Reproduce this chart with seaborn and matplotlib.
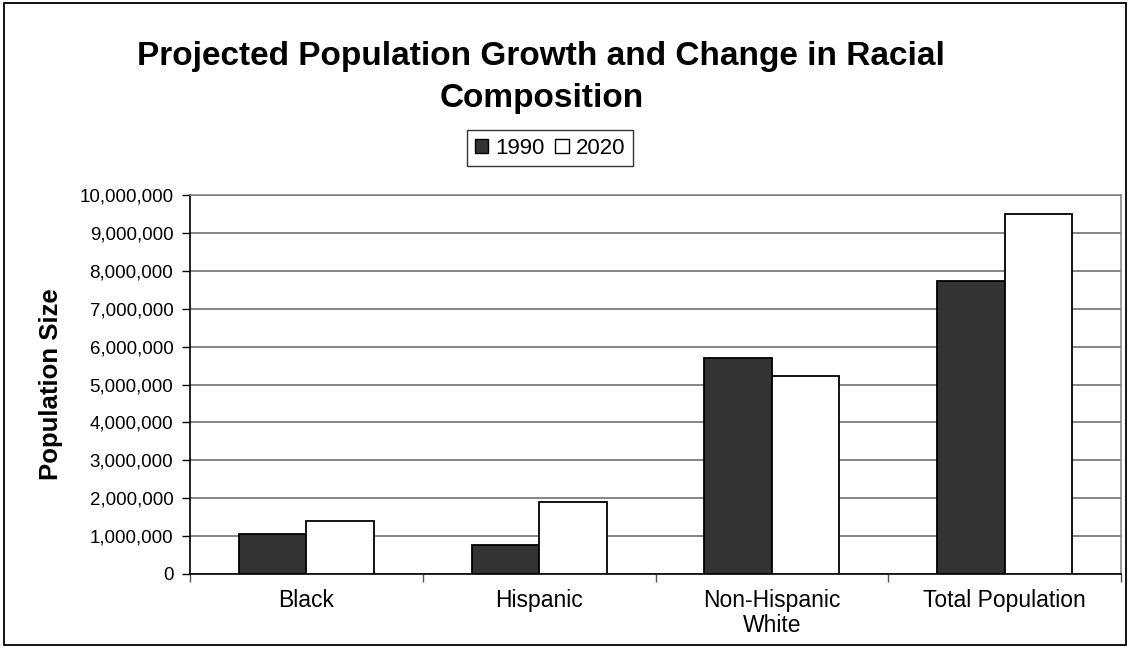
import matplotlib
matplotlib.use("Agg")
import matplotlib.pyplot as plt
import matplotlib.ticker as mticker
from matplotlib.patches import Rectangle, Patch
import pandas as pd
import seaborn as sns

# Population figures by group
categories = ["Black", "Hispanic", "Non-Hispanic\nWhite", "Total Population"]
years = ["1990", "2020"]
pop_1990 = [1060000, 770000, 5710000, 7740000]
pop_2020 = [1390000, 1910000, 5230000, 9510000]
y_ticks = list(range(0, 10000001, 1000000))

df = pd.DataFrame({
    "group": categories * 2,
    "year": [years[0]] * 4 + [years[1]] * 4,
    "population": pop_1990 + pop_2020,
})

sns.set_style("white")
plt.rcParams["font.family"] = ["Liberation Sans", "DejaVu Sans"]
plt.rcParams["text.color"] = "black"
plt.rcParams["axes.labelcolor"] = "black"
plt.rcParams["xtick.color"] = "black"
plt.rcParams["ytick.color"] = "black"

W, H = 1130, 647
fig = plt.figure(figsize=(W / 100, H / 100), dpi=100)
ax = fig.add_axes([190 / W, 1 - 574 / H, (1121 - 190) / W, (574 - 195) / H])

colors = {"1990": "#333333", "2020": "#ffffff"}
sns.barplot(data=df, x="group", y="population", hue="year", order=categories,
            hue_order=years, palette=colors, edgecolor="black", linewidth=1.3,
            width=0.58, saturation=1, ax=ax, legend=False, zorder=3)

ax.set_ylim(0, 10000000)
ax.set_xlim(-0.5, 3.5)
ax.set_yticks(y_ticks)
ax.yaxis.set_major_formatter(mticker.FuncFormatter(lambda v, p: f"{int(v):,}"))
ax.grid(axis="y", color="#666666", linewidth=1.1, zorder=0)
ax.set_axisbelow(True)

# category labels centered, tick marks at category boundaries
ax.set_xticks(range(len(categories)))
ax.set_xticklabels(categories, fontsize=16.5, linespacing=1.08)
ax.tick_params(axis="x", which="major", length=0, pad=11)
ax.set_xticks([i - 0.5 for i in range(len(categories) + 1)], minor=True)
ax.tick_params(axis="x", which="minor", length=6, width=1, color="#555555",
               direction="out", bottom=True)
ax.tick_params(axis="y", which="major", length=6, width=1, color="black",
               direction="out", left=True, labelsize=13.5, pad=6)

for side in ("left", "bottom"):
    ax.spines[side].set_color("black")
    ax.spines[side].set_linewidth(1.2)
for side in ("top", "right"):
    ax.spines[side].set_color("#808080")
    ax.spines[side].set_linewidth(1.1)

ax.set_xlabel("")
ax.set_ylabel("Population Size", fontsize=18.5, fontweight="bold")
ax.yaxis.set_label_coords(-0.136, 0.5)

fig.text(541 / W, 1 - 56 / H, "Projected Population Growth and Change in Racial",
         ha="center", va="center", fontsize=24, fontweight="bold")
fig.text(542 / W, 1 - 99 / H, "Composition",
         ha="center", va="center", fontsize=24, fontweight="bold")

handles = [Patch(facecolor=colors[y], edgecolor="black", linewidth=1.0, label=y)
           for y in years]
leg = fig.legend(handles=handles, ncol=2, loc="center",
                 bbox_to_anchor=(550 / W, 1 - 148 / H), fontsize=16,
                 frameon=True, fancybox=False, handlelength=0.6,
                 handleheight=0.6, handletextpad=0.3, columnspacing=0.5,
                 borderpad=0.35, borderaxespad=0)
leg.get_frame().set_edgecolor("black")
leg.get_frame().set_linewidth(1.0)

fig.patches.append(Rectangle((4 / W, 2 / H), 1 - 8 / W, 1 - 5 / H,
                             transform=fig.transFigure, fill=False,
                             edgecolor="black", linewidth=1.3))

fig.savefig("out.png", dpi=100, facecolor="white")
